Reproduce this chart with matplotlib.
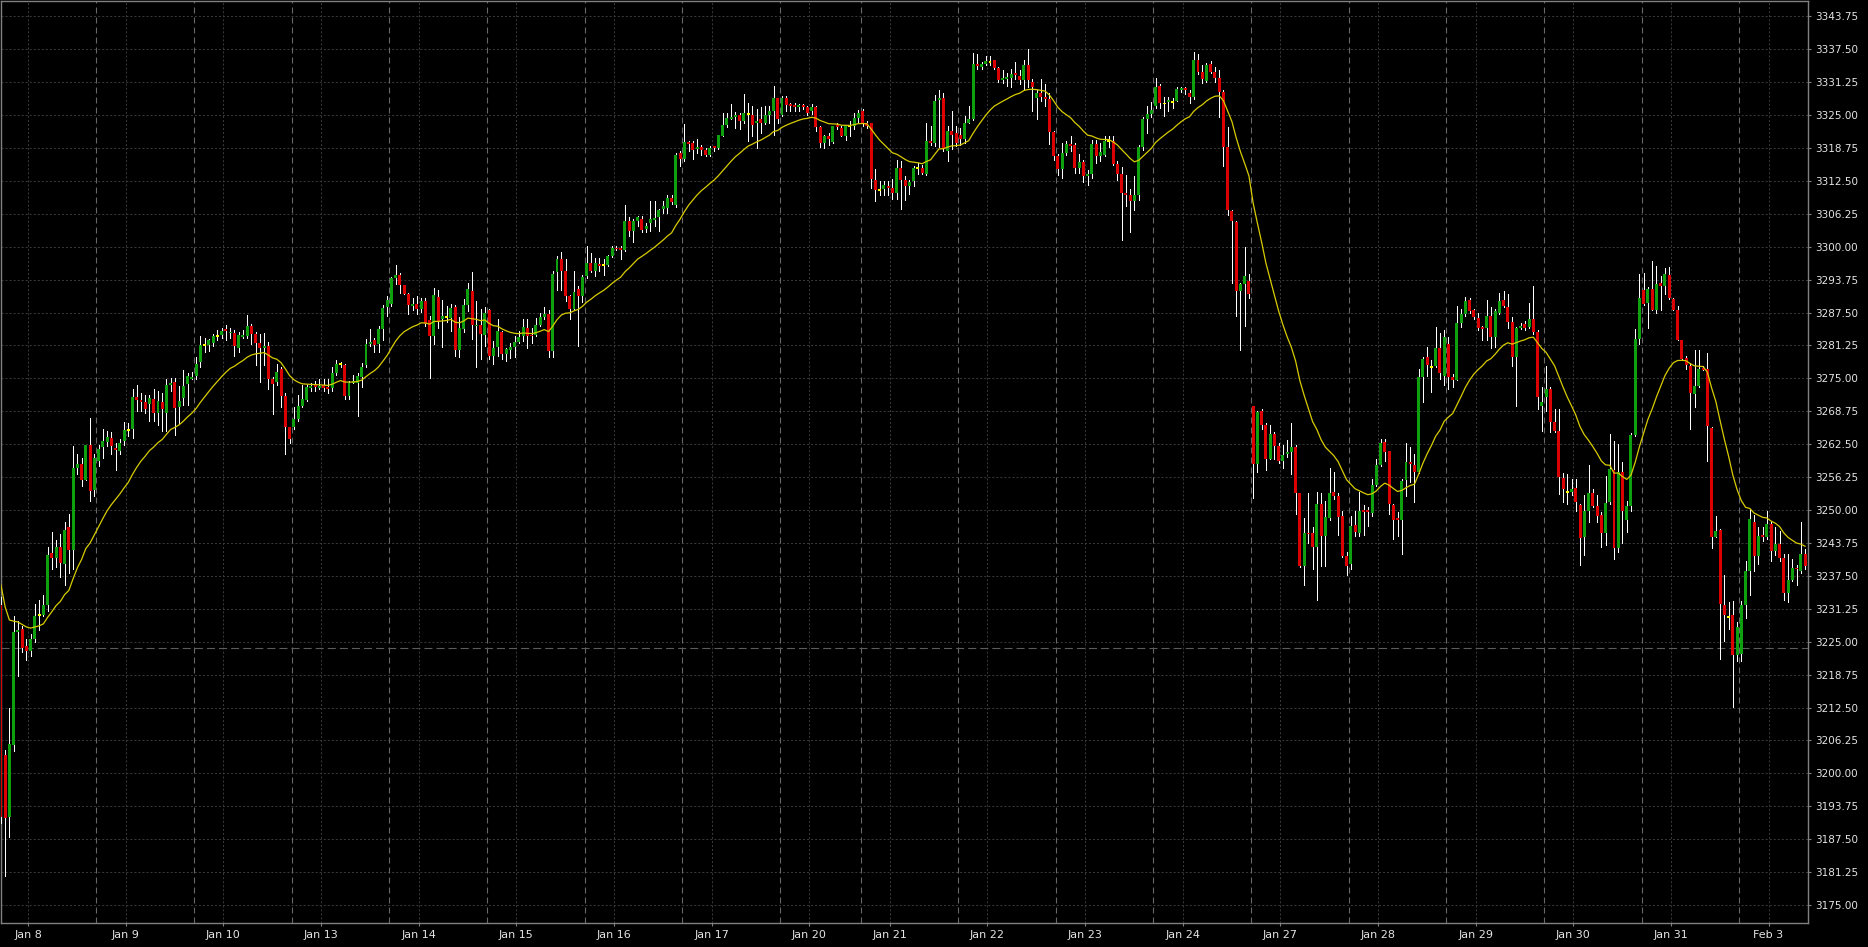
import numpy as np
import matplotlib
matplotlib.use('Agg')
import matplotlib.pyplot as plt

plt.rcParams['lines.scale_dashes'] = False

# one session per trading day (hourly bars), Jan 20 is a short session
days = ['Jan 8', 'Jan 9', 'Jan 10', 'Jan 13', 'Jan 14', 'Jan 15', 'Jan 16',
        'Jan 17', 'Jan 20', 'Jan 21', 'Jan 22', 'Jan 23', 'Jan 24', 'Jan 27',
        'Jan 28', 'Jan 29', 'Jan 30', 'Jan 31', 'Feb 3']
bars_per_day = [23, 23, 23, 23, 23, 23, 23, 23, 19, 23, 23, 23, 23, 23, 23,
                23, 23, 23, 16]

ma_first = 3235.8      # moving average value on the first visible bar
ma_span = 20
level_line = 3223.75   # dashed horizontal level

open_ = [
    # Jan 8
    3231.9, 3203.5, 3191.8, 3205.4, 3226.8, 3227.4, 3224.1, 3223.2, 3225.6, 3230.0, 3230.0, 3232.0,
    3241.8, 3240.9, 3242.9, 3239.8, 3246.7, 3242.4, 3257.9, 3258.7, 3255.8, 3262.4, 3253.9,
    # Jan 9
    3259.4, 3261.9, 3263.0, 3263.7, 3261.8, 3261.3, 3263.2, 3265.2, 3265.4, 3271.4, 3270.8, 3270.5,
    3270.2, 3271.1, 3268.4, 3270.5, 3268.4, 3273.9, 3274.4, 3269.6, 3271.2, 3273.9, 3275.0,
    # Jan 10
    3275.4, 3278.2, 3281.4, 3281.4, 3281.8, 3283.1, 3283.2, 3284.4, 3283.6, 3283.7, 3280.8, 3282.9,
    3283.1, 3285.0, 3283.5, 3281.8, 3280.8, 3281.2, 3274.8, 3274.3, 3276.7, 3271.7, 3265.8,
    # Jan 13
    3265.7, 3267.3, 3269.7, 3270.9, 3273.3, 3273.7, 3273.3, 3273.7, 3273.3, 3273.2, 3276.0, 3277.7,
    3277.6, 3271.6, 3274.2, 3274.1, 3275.2, 3277.5, 3281.6, 3282.2, 3281.6, 3284.4, 3288.5,
    # Jan 14
    3289.2, 3294.0, 3294.7, 3292.7, 3291.1, 3288.9, 3289.1, 3288.1, 3289.6, 3286.1, 3283.1, 3290.4,
    3286.2, 3286.7, 3286.5, 3288.6, 3280.4, 3284.3, 3288.9, 3291.5, 3284.9, 3285.1, 3283.3,
    # Jan 15
    3287.9, 3279.2, 3280.9, 3283.9, 3279.7, 3280.4, 3280.9, 3281.9, 3283.0, 3284.6, 3283.3, 3283.2,
    3285.1, 3286.7, 3287.3, 3280.2, 3295.2, 3297.7, 3295.4, 3290.6, 3288.2, 3291.9, 3290.7,
    # Jan 16
    3294.4, 3296.9, 3295.4, 3296.8, 3296.5, 3296.6, 3298.3, 3299.8, 3299.6, 3299.4, 3304.8, 3303.0,
    3304.8, 3305.3, 3303.3, 3304.5, 3305.2, 3305.6, 3307.1, 3307.4, 3309.2, 3308.0, 3317.8,
    # Jan 17
    3316.7, 3319.9, 3319.6, 3318.6, 3319.0, 3318.3, 3317.5, 3319.0, 3318.7, 3321.0, 3323.1, 3324.4,
    3324.7, 3325.1, 3323.9, 3325.2, 3325.1, 3323.5, 3324.2, 3323.5, 3325.0, 3325.7, 3328.3,
    # Jan 20
    3325.1, 3328.2, 3327.0, 3326.9, 3326.6, 3326.9, 3326.5, 3325.7, 3326.5, 3322.8, 3319.6, 3321.1,
    3319.9, 3323.0, 3322.6, 3321.0, 3322.9, 3322.9, 3324.4,
    # Jan 21
    3325.7, 3323.5, 3323.4, 3312.6, 3310.7, 3310.9, 3311.6, 3311.2, 3310.2, 3315.0, 3312.7, 3311.6,
    3312.5, 3314.9, 3315.0, 3313.8, 3320.1, 3319.6, 3327.9, 3328.3, 3318.1, 3322.0, 3321.5,
    # Jan 22
    3321.3, 3320.5, 3323.5, 3324.3, 3334.6, 3334.2, 3334.6, 3335.1, 3335.4, 3334.0, 3331.7, 3332.0,
    3332.1, 3333.0, 3332.5, 3331.7, 3334.5, 3331.3, 3328.3, 3329.2, 3328.4, 3328.1, 3321.8,
    # Jan 23
    3317.2, 3314.7, 3317.7, 3319.5, 3319.3, 3314.9, 3316.1, 3313.4, 3313.8, 3319.5, 3317.2, 3317.4,
    3320.1, 3320.1, 3315.7, 3313.8, 3310.2, 3309.9, 3308.6, 3309.9, 3318.9, 3324.2, 3325.2,
    # Jan 24
    3326.7, 3330.6, 3327.2, 3327.4, 3327.5, 3327.7, 3329.8, 3330.0, 3329.2, 3328.4, 3335.5, 3333.2,
    3331.5, 3334.7, 3333.2, 3332.1, 3329.3, 3318.9, 3306.7, 3304.7, 3291.5, 3293.0, 3293.5,
    # Jan 27
    3269.8, 3258.7, 3268.8, 3266.2, 3259.6, 3264.5, 3262.2, 3259.4, 3260.6, 3261.0, 3262.0, 3253.2,
    3239.3, 3245.7, 3245.6, 3243.0, 3251.1, 3245.0, 3248.4, 3253.5, 3252.6, 3248.8, 3241.3,
    # Jan 28
    3239.7, 3247.1, 3245.6, 3249.9, 3249.9, 3249.4, 3254.8, 3258.6, 3262.9, 3261.2, 3251.0, 3248.5,
    3248.1, 3255.7, 3259.1, 3258.6, 3257.2, 3275.2, 3279.0, 3277.2, 3277.4, 3280.8, 3275.5,
    # Jan 29
    3281.5, 3275.3, 3274.7, 3285.6, 3287.2, 3289.9, 3287.9, 3286.5, 3284.6, 3284.6, 3286.9, 3282.9,
    3287.5, 3289.9, 3288.6, 3285.8, 3279.0, 3284.6, 3285.3, 3284.7, 3286.3, 3283.8, 3269.8,
    # Jan 30
    3271.4, 3273.0, 3266.7, 3265.1, 3256.1, 3253.4, 3253.4, 3254.2, 3251.0, 3244.8, 3249.9, 3253.2,
    3250.8, 3249.1, 3245.6, 3251.5, 3257.6, 3242.8, 3257.2, 3248.1, 3250.8, 3264.3, 3282.5,
    # Jan 31
    3291.8, 3289.4, 3292.0, 3287.9, 3293.2, 3292.5, 3294.7, 3290.1, 3287.9, 3282.2, 3278.9, 3277.4,
    3272.0, 3273.6, 3277.0, 3276.8, 3265.6, 3244.8, 3246.2, 3231.9, 3229.7, 3230.1, 3222.4,
    # Feb 3
    3222.7, 3231.9, 3238.5, 3247.8, 3241.2, 3245.3, 3244.8, 3247.4, 3242.3, 3243.6, 3240.9, 3234.2,
    3236.7, 3239.0, 3238.5, 3241.7,
]

high_ = [
    3233.5, 3204.5, 3212.5, 3229.8, 3229.0, 3228.0, 3225.6, 3226.4, 3232.2, 3233.0, 3233.9, 3242.9,
    3245.9, 3244.4, 3245.5, 3247.8, 3249.3, 3262.1, 3260.6, 3259.8, 3262.4, 3267.5, 3260.6,
    3262.4, 3265.4, 3265.1, 3264.8, 3262.7, 3263.4, 3266.7, 3266.6, 3273.0, 3273.7, 3272.2, 3271.8,
    3271.8, 3273.0, 3272.6, 3272.2, 3274.8, 3275.1, 3275.1, 3273.5, 3276.6, 3276.0, 3276.3,
    3279.0, 3283.1, 3282.7, 3282.5, 3283.5, 3284.2, 3284.6, 3285.2, 3284.6, 3284.2, 3283.8, 3284.2,
    3287.0, 3285.3, 3283.8, 3283.5, 3283.6, 3282.0, 3275.2, 3277.7, 3277.1, 3272.2, 3265.8,
    3269.6, 3271.8, 3273.7, 3273.7, 3274.1, 3274.5, 3274.8, 3274.8, 3274.8, 3277.1, 3278.4, 3278.2,
    3277.8, 3274.5, 3275.6, 3276.0, 3278.0, 3282.5, 3284.4, 3282.7, 3285.0, 3288.9, 3290.6,
    3294.2, 3296.6, 3295.1, 3292.8, 3291.3, 3290.2, 3290.6, 3290.2, 3290.2, 3286.8, 3292.2, 3291.7,
    3289.8, 3288.7, 3289.2, 3288.9, 3286.7, 3290.0, 3293.2, 3295.2, 3289.7, 3288.1, 3288.6,
    3288.1, 3282.1, 3286.3, 3284.0, 3280.8, 3281.8, 3283.0, 3284.0, 3286.2, 3286.3, 3284.6, 3286.5,
    3287.5, 3288.5, 3287.9, 3295.4, 3298.2, 3299.0, 3297.6, 3290.9, 3295.4, 3292.5, 3294.6,
    3300.1, 3298.8, 3297.9, 3297.8, 3297.6, 3298.5, 3300.1, 3300.1, 3300.1, 3308.0, 3305.7, 3305.3,
    3305.8, 3305.9, 3304.5, 3308.7, 3308.7, 3307.1, 3308.7, 3309.9, 3309.9, 3317.8, 3318.2,
    3323.3, 3320.1, 3320.1, 3320.5, 3319.4, 3318.8, 3319.1, 3319.2, 3321.3, 3325.3, 3325.4, 3327.1,
    3325.6, 3325.4, 3328.9, 3327.3, 3326.7, 3326.1, 3326.6, 3326.7, 3326.7, 3330.5, 3328.3,
    3328.6, 3328.7, 3327.3, 3327.3, 3327.1, 3327.1, 3326.7, 3327.0, 3326.7, 3322.9, 3321.2, 3321.6,
    3323.0, 3323.5, 3322.9, 3323.0, 3323.8, 3325.4, 3325.9,
    3326.1, 3323.8, 3323.5, 3314.7, 3312.4, 3312.4, 3312.4, 3312.8, 3316.4, 3316.3, 3313.5, 3312.6,
    3315.4, 3315.9, 3315.5, 3323.5, 3323.0, 3328.8, 3329.8, 3329.1, 3323.0, 3325.7, 3323.0,
    3322.6, 3324.9, 3326.7, 3336.7, 3336.5, 3335.1, 3336.2, 3336.2, 3335.4, 3334.2, 3333.5, 3333.0,
    3333.7, 3335.1, 3333.5, 3335.5, 3337.6, 3331.9, 3329.8, 3331.8, 3330.8, 3329.1, 3322.0,
    3317.6, 3319.6, 3320.1, 3321.1, 3319.6, 3317.6, 3316.5, 3314.5, 3320.3, 3320.3, 3319.6, 3321.1,
    3321.1, 3321.0, 3316.2, 3315.2, 3313.6, 3310.9, 3313.5, 3319.3, 3324.7, 3326.7, 3327.4,
    3332.1, 3330.8, 3328.4, 3328.4, 3328.3, 3330.4, 3330.3, 3330.3, 3329.8, 3336.9, 3336.5, 3334.5,
    3334.9, 3335.2, 3334.2, 3333.5, 3329.8, 3322.7, 3306.9, 3304.8, 3293.2, 3299.9, 3294.9,
    3269.8, 3268.8, 3269.1, 3266.6, 3266.2, 3264.8, 3262.7, 3262.3, 3263.3, 3266.6, 3262.3, 3253.3,
    3248.5, 3253.2, 3246.7, 3253.5, 3253.2, 3251.8, 3257.9, 3257.2, 3253.2, 3249.8, 3242.0,
    3248.9, 3249.8, 3253.4, 3250.9, 3250.5, 3255.9, 3259.7, 3263.5, 3263.5, 3261.3, 3251.2, 3249.6,
    3255.9, 3262.7, 3261.9, 3260.6, 3276.8, 3279.1, 3280.9, 3278.4, 3284.8, 3283.6, 3284.1,
    3282.8, 3275.8, 3288.8, 3288.2, 3290.5, 3290.3, 3288.2, 3287.5, 3285.0, 3289.9, 3288.5, 3288.2,
    3291.3, 3291.6, 3291.0, 3286.7, 3284.7, 3285.6, 3285.9, 3289.4, 3292.6, 3284.2, 3273.3,
    3277.4, 3273.3, 3269.2, 3269.2, 3257.0, 3256.9, 3255.9, 3255.9, 3251.2, 3252.8, 3258.6, 3254.0,
    3252.8, 3249.6, 3256.5, 3264.4, 3263.2, 3262.6, 3259.1, 3251.8, 3264.6, 3284.4, 3294.9,
    3295.1, 3292.4, 3297.2, 3296.4, 3294.5, 3296.0, 3296.1, 3290.3, 3288.8, 3282.3, 3279.3, 3278.0,
    3280.3, 3280.3, 3277.4, 3279.9, 3265.8, 3248.8, 3246.4, 3237.6, 3232.5, 3232.8, 3228.7,
    3232.8, 3240.4, 3250.2, 3249.0, 3246.7, 3246.7, 3249.9, 3247.7, 3246.7, 3246.1, 3241.7, 3241.7,
    3240.7, 3239.5, 3247.7, 3242.6,
]

low_ = [
    3190.5, 3180.6, 3188.0, 3204.3, 3218.5, 3223.0, 3221.5, 3222.3, 3224.9, 3227.2, 3229.8, 3230.9,
    3238.8, 3239.2, 3237.3, 3235.8, 3238.0, 3238.8, 3256.8, 3254.6, 3255.7, 3251.7, 3252.7,
    3258.3, 3259.8, 3262.1, 3260.6, 3257.6, 3260.6, 3262.4, 3264.0, 3263.6, 3268.8, 3268.8, 3268.4,
    3266.9, 3266.9, 3266.2, 3265.1, 3265.1, 3272.6, 3264.3, 3266.6, 3270.0, 3270.0, 3274.8,
    3274.8, 3277.2, 3280.1, 3280.2, 3281.2, 3282.3, 3282.7, 3282.3, 3282.7, 3279.3, 3280.1, 3282.7,
    3282.7, 3281.6, 3277.5, 3274.4, 3277.5, 3273.0, 3268.3, 3273.7, 3269.6, 3260.6, 3262.8,
    3265.4, 3266.9, 3269.6, 3270.7, 3272.6, 3272.6, 3273.0, 3272.6, 3272.2, 3272.6, 3275.6, 3277.1,
    3271.1, 3271.1, 3274.1, 3267.8, 3273.3, 3277.1, 3281.2, 3280.1, 3280.1, 3282.3, 3286.8,
    3288.7, 3293.0, 3291.3, 3291.0, 3287.2, 3288.0, 3287.2, 3287.6, 3285.0, 3275.0, 3281.6, 3284.6,
    3281.0, 3285.7, 3284.0, 3279.2, 3279.0, 3283.9, 3287.8, 3282.4, 3277.2, 3278.6, 3281.1,
    3278.6, 3277.7, 3279.2, 3278.6, 3278.3, 3278.9, 3279.1, 3281.8, 3282.1, 3280.8, 3281.8, 3283.0,
    3284.9, 3286.2, 3279.0, 3279.0, 3291.8, 3291.8, 3289.7, 3286.2, 3288.1, 3281.1, 3289.5,
    3294.1, 3295.2, 3294.4, 3295.4, 3294.7, 3296.3, 3298.1, 3299.4, 3297.6, 3299.2, 3302.0, 3300.9,
    3303.9, 3302.7, 3302.8, 3303.0, 3303.9, 3303.0, 3306.4, 3306.4, 3308.2, 3307.5, 3315.4,
    3316.2, 3318.2, 3316.6, 3317.8, 3317.4, 3317.3, 3317.3, 3318.2, 3318.5, 3321.0, 3322.7, 3324.2,
    3322.6, 3322.4, 3323.5, 3320.1, 3321.0, 3318.8, 3321.6, 3323.3, 3323.5, 3321.3, 3323.5,
    3324.8, 3325.7, 3325.7, 3325.7, 3325.7, 3326.1, 3325.1, 3325.2, 3322.0, 3318.9, 3318.7, 3319.4,
    3319.7, 3322.3, 3321.0, 3320.2, 3321.0, 3322.4, 3323.5,
    3322.9, 3322.6, 3311.2, 3308.7, 3309.9, 3309.9, 3309.9, 3309.1, 3309.1, 3307.1, 3308.9, 3310.1,
    3311.5, 3313.8, 3313.8, 3313.6, 3319.3, 3319.1, 3318.9, 3318.1, 3316.2, 3318.6, 3319.1,
    3319.3, 3319.6, 3323.5, 3324.0, 3333.8, 3333.8, 3334.5, 3334.5, 3333.7, 3331.3, 3331.1, 3330.6,
    3330.4, 3331.8, 3330.8, 3329.8, 3330.4, 3325.8, 3324.2, 3327.7, 3326.7, 3319.5, 3316.5,
    3313.6, 3313.0, 3317.4, 3318.1, 3314.0, 3314.0, 3312.3, 3311.8, 3313.0, 3315.9, 3316.2, 3317.2,
    3318.9, 3315.5, 3312.7, 3301.2, 3307.7, 3302.8, 3306.9, 3308.9, 3318.4, 3321.5, 3324.7,
    3326.4, 3326.4, 3324.9, 3325.7, 3326.4, 3327.6, 3329.4, 3329.0, 3327.2, 3328.1, 3332.8, 3331.1,
    3331.3, 3333.0, 3331.3, 3324.7, 3315.4, 3306.0, 3293.2, 3286.9, 3280.3, 3285.0, 3290.3,
    3252.3, 3257.2, 3265.4, 3257.6, 3259.6, 3259.6, 3258.9, 3257.9, 3260.0, 3256.9, 3249.2, 3239.1,
    3235.7, 3243.7, 3238.9, 3233.0, 3239.3, 3239.3, 3248.1, 3252.1, 3245.2, 3241.0, 3237.6,
    3238.9, 3245.0, 3245.0, 3245.2, 3246.9, 3248.9, 3254.5, 3258.4, 3259.4, 3249.3, 3244.5, 3245.1,
    3241.6, 3252.6, 3255.3, 3251.5, 3257.0, 3270.5, 3275.5, 3272.5, 3277.2, 3274.9, 3273.8,
    3273.0, 3273.4, 3274.6, 3284.7, 3286.9, 3287.5, 3286.3, 3284.2, 3282.2, 3282.2, 3280.8, 3280.9,
    3287.2, 3288.5, 3284.6, 3277.4, 3269.8, 3284.4, 3284.1, 3284.6, 3283.4, 3269.2, 3265.1,
    3268.9, 3264.8, 3264.8, 3253.1, 3251.5, 3251.2, 3252.8, 3249.9, 3239.6, 3241.4, 3247.8, 3250.5,
    3247.7, 3242.9, 3243.3, 3251.2, 3240.7, 3242.0, 3243.7, 3245.8, 3249.9, 3264.1, 3281.5,
    3289.0, 3284.6, 3287.9, 3287.5, 3287.9, 3291.0, 3290.1, 3287.9, 3282.2, 3278.4, 3276.8, 3265.4,
    3269.5, 3273.3, 3276.5, 3259.4, 3242.8, 3244.8, 3221.8, 3225.2, 3227.4, 3212.6, 3221.4,
    3221.4, 3229.6, 3233.8, 3238.5, 3239.8, 3244.2, 3244.5, 3240.4, 3241.4, 3240.3, 3233.0, 3232.5,
    3236.6, 3235.7, 3238.0, 3238.8,
]

close_ = [
    3191.7, 3191.6, 3205.6, 3226.9, 3227.3, 3223.9, 3223.2, 3225.6, 3229.8, 3230.0, 3232.0, 3241.4,
    3240.9, 3242.9, 3240.0, 3246.3, 3242.4, 3257.9, 3258.7, 3255.8, 3262.4, 3253.7, 3259.8,
    3261.5, 3263.2, 3263.8, 3262.1, 3261.5, 3262.8, 3265.2, 3265.2, 3271.4, 3270.9, 3270.5, 3269.2,
    3271.2, 3268.4, 3270.7, 3269.2, 3273.7, 3274.1, 3269.4, 3270.8, 3273.6, 3275.4, 3275.3,
    3277.7, 3281.4, 3281.4, 3282.2, 3283.0, 3283.1, 3284.0, 3284.0, 3283.8, 3281.2, 3283.3, 3283.2,
    3285.0, 3283.5, 3281.7, 3280.8, 3281.2, 3274.8, 3273.9, 3276.2, 3271.7, 3265.8, 3263.4,
    3267.3, 3269.7, 3271.1, 3273.3, 3273.5, 3273.3, 3273.5, 3273.2, 3273.1, 3276.0, 3277.8, 3277.7,
    3271.6, 3274.2, 3274.5, 3275.4, 3277.1, 3281.6, 3281.8, 3281.4, 3284.4, 3288.3, 3289.8,
    3294.0, 3294.7, 3292.7, 3291.1, 3289.0, 3289.1, 3288.1, 3289.6, 3285.3, 3283.1, 3290.8, 3285.9,
    3286.8, 3286.7, 3288.3, 3280.4, 3284.6, 3288.9, 3291.9, 3285.1, 3285.2, 3283.5, 3287.5,
    3279.2, 3280.8, 3284.0, 3279.7, 3280.5, 3280.9, 3281.9, 3282.8, 3284.8, 3283.0, 3283.0, 3285.1,
    3286.7, 3287.3, 3280.2, 3294.9, 3297.7, 3295.4, 3290.6, 3288.2, 3291.4, 3290.7, 3294.3,
    3296.9, 3295.4, 3296.9, 3296.3, 3296.5, 3298.3, 3299.8, 3299.5, 3299.4, 3304.8, 3303.0, 3304.8,
    3305.6, 3303.2, 3304.0, 3305.2, 3305.4, 3306.9, 3307.7, 3309.2, 3308.5, 3317.5, 3316.6,
    3319.9, 3319.6, 3318.3, 3318.9, 3318.3, 3317.5, 3318.8, 3318.8, 3321.2, 3323.2, 3324.4, 3324.6,
    3325.1, 3323.9, 3325.3, 3325.2, 3323.1, 3323.9, 3323.5, 3325.0, 3325.7, 3328.3, 3324.3,
    3328.2, 3326.9, 3326.7, 3326.6, 3326.9, 3326.6, 3325.4, 3326.5, 3322.8, 3319.6, 3321.0, 3320.4,
    3323.0, 3322.8, 3321.1, 3322.9, 3322.9, 3324.5, 3325.3,
    3323.4, 3323.0, 3312.9, 3310.7, 3310.7, 3311.8, 3311.1, 3310.2, 3315.0, 3312.6, 3311.6, 3312.3,
    3315.0, 3314.9, 3314.0, 3320.1, 3319.6, 3327.7, 3328.3, 3318.6, 3322.0, 3321.3, 3319.6,
    3320.5, 3323.5, 3324.3, 3334.6, 3334.4, 3334.6, 3335.2, 3335.1, 3334.0, 3331.7, 3332.0, 3332.1,
    3332.8, 3332.6, 3331.6, 3334.5, 3331.6, 3330.3, 3329.2, 3328.4, 3328.1, 3321.8, 3317.2,
    3314.7, 3317.7, 3319.5, 3319.1, 3314.9, 3316.1, 3313.4, 3313.8, 3319.5, 3317.2, 3317.9, 3320.1,
    3320.1, 3315.7, 3313.8, 3310.2, 3309.9, 3308.6, 3309.9, 3318.9, 3324.2, 3325.2, 3325.9,
    3330.4, 3327.2, 3327.2, 3327.9, 3327.5, 3330.0, 3330.0, 3329.8, 3328.4, 3335.5, 3333.2, 3331.9,
    3334.5, 3333.2, 3332.1, 3329.4, 3318.9, 3306.9, 3304.8, 3291.5, 3293.0, 3294.5, 3291.1,
    3258.7, 3268.6, 3266.2, 3259.6, 3264.5, 3262.2, 3259.3, 3260.5, 3261.0, 3262.0, 3253.3, 3239.3,
    3245.6, 3245.4, 3243.0, 3251.1, 3245.0, 3248.6, 3253.3, 3252.6, 3248.6, 3241.3, 3239.3,
    3246.9, 3245.8, 3249.9, 3249.6, 3249.6, 3254.8, 3258.6, 3262.7, 3261.0, 3251.2, 3248.1, 3248.1,
    3255.6, 3259.1, 3258.8, 3257.2, 3275.2, 3278.7, 3277.6, 3277.2, 3280.8, 3276.0, 3282.9,
    3275.2, 3274.7, 3285.6, 3287.2, 3289.6, 3287.7, 3286.6, 3284.6, 3284.4, 3286.9, 3282.9, 3287.7,
    3289.6, 3288.8, 3285.8, 3279.0, 3284.6, 3285.0, 3284.6, 3286.3, 3283.9, 3271.4, 3270.6,
    3273.0, 3266.7, 3265.1, 3256.2, 3254.0, 3253.4, 3254.0, 3251.5, 3244.7, 3249.9, 3253.2, 3250.8,
    3248.8, 3245.6, 3251.3, 3257.8, 3242.8, 3257.2, 3249.9, 3250.8, 3264.3, 3282.5, 3290.3,
    3289.1, 3292.0, 3288.0, 3293.0, 3292.6, 3294.8, 3290.3, 3288.0, 3282.3, 3278.7, 3277.6, 3272.2,
    3273.6, 3276.8, 3276.6, 3265.9, 3244.8, 3246.1, 3232.2, 3230.0, 3229.7, 3222.4, 3227.8,
    3231.9, 3238.5, 3248.3, 3241.2, 3245.1, 3244.8, 3247.4, 3242.3, 3243.6, 3240.9, 3234.2, 3236.7,
    3239.0, 3238.8, 3241.6, 3239.3,
]

o = np.array(open_)
h = np.array(high_)
l = np.array(low_)
c = np.array(close_)
n = len(c)
x = np.arange(n)

starts = np.cumsum([0] + bars_per_day[:-1])

# exponential moving average of the closes
alpha = 2.0 / (ma_span + 1)
ma = [ma_first]
for v in c[1:]:
    ma.append(ma[-1] + alpha * (v - ma[-1]))

fig = plt.figure(figsize=(18.68, 9.47), dpi=100, facecolor='black')
ax = fig.add_axes([0.5 / 1868, 24 / 947, 1807.5 / 1868, 922 / 947])
ax.set_facecolor('black')

yticks = np.arange(3175.0, 3344.0, 6.25)
xticks = starts + 6.4

# grid
for yv in yticks:
    ax.axhline(yv, color='#3a3a3a', lw=0.7, ls=(0, (1.45, 1.45)), zorder=1)
for xv in xticks:
    ax.axvline(xv, color='#3a3a3a', lw=0.7, ls=(0, (1.45, 1.45)), zorder=1)
for s in starts[1:]:
    ax.axvline(s - 0.5, color='#686868', lw=0.8, ls=(0, (4.3, 2.9)), zorder=1)
ax.axhline(level_line, color='#5c5c5c', lw=0.8, ls=(0, (5.8, 2.9)), zorder=2)

# candles
doji = np.isclose(o, c)
col = np.where(doji, '#ffff00', np.where(c > o, '#0ea00e', '#dc0000'))
body_lo = np.minimum(o, c)
body_h = np.abs(c - o)
small = body_h < 0.35
body_lo = np.where(small, (o + c) / 2 - 0.175, body_lo)
body_h = np.where(small, 0.35, body_h)

ax.vlines(x, l, h, colors='white', lw=0.72, zorder=3, antialiased=False)
ax.bar(x, body_h, bottom=body_lo, width=0.7, color=col, lw=0, zorder=4,
       antialiased=False)
ax.plot(x, ma, color='#d8cc00', lw=0.9, zorder=5)

ax.set_xlim(-0.1, 425.7)
ax.set_ylim(3171.6, 3346.65)

ax.yaxis.tick_right()
ax.set_yticks(yticks)
ax.set_yticklabels(['%.2f' % v for v in yticks])
ax.set_xticks(xticks)
ax.set_xticklabels(days)
ax.tick_params(axis='both', colors='#808080', labelcolor='#e4e4e4', length=2.5,
               width=0.8, direction='out')
ax.tick_params(axis='y', labelsize=7.5, pad=2.5)
ax.tick_params(axis='x', labelsize=8, pad=2.5)
for sp in ax.spines.values():
    sp.set_color('#808080')
    sp.set_linewidth(1.0)

fig.savefig('out.png', dpi=100, facecolor='black')
